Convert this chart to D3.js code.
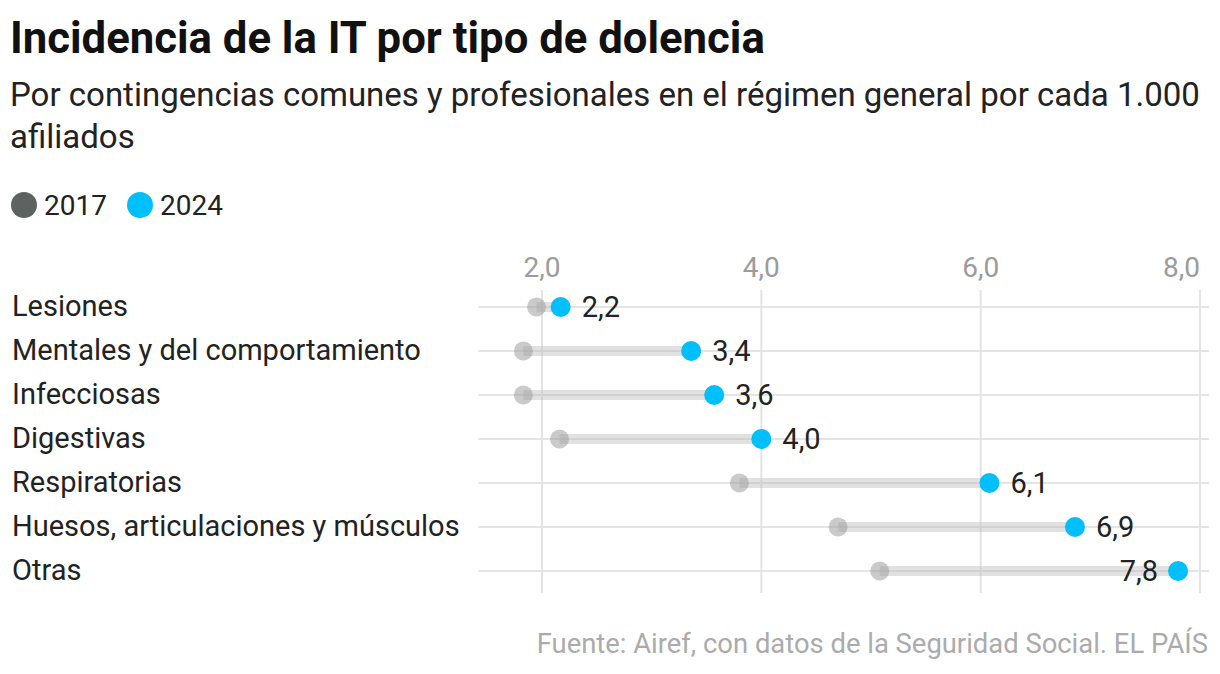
<!DOCTYPE html>
<html>
<head>
<meta charset="utf-8">
<script src="https://cdn.jsdelivr.net/npm/d3@7"></script>
<style>
  body { margin: 0; background: #fff; }
  text { font-family: Roboto, "Liberation Sans", sans-serif; }
</style>
</head>
<body>
<div id="container"></div>
<script>
let categories = ['Lesiones', 'Mentales y del comportamiento', 'Infecciosas', 'Digestivas',
                  'Respiratorias', 'Huesos, articulaciones y músculos', 'Otras']
let values2017 = [1.95, 1.83, 1.83, 2.16, 3.8, 4.7, 5.08]
let values2024 = [2.17, 3.36, 3.57, 4.0, 6.08, 6.86, 7.8]
let tickValues = [2, 4, 6, 8]
let seriesNames = ['2017', '2024']

let svgWidth = 1220;
let svgHeight = 674;
let colorOld = '#5c6360';
let colorNew = '#00bfff';

let fmt = v => d3.format('.1f')(v).replace('.', ',')

let svg = d3.select('#container')
            .append('svg')
            .attr('width', svgWidth)
            .attr('height', svgHeight);

// titulo y subtitulo
svg.append('text')
   .attr('x', 10).attr('y', 53)
   .attr('font-family', '"Liberation Sans Narrow", "DejaVu Sans Condensed", sans-serif')
   .attr('font-weight', 'bold')
   .attr('font-size', 43.7)
   .attr('fill', '#111')
   .text('Incidencia de la IT por tipo de dolencia')

let subtitle = ['Por contingencias comunes y profesionales en el régimen general por cada 1.000', 'afiliados']
svg.selectAll('.sub')
   .data(subtitle)
   .enter()
   .append('text')
   .attr('x', 10)
   .attr('y', (d, i) => 106 + i * 42)
   .attr('font-size', 33)
   .attr('fill', '#222')
   .text(d => d)

// leyenda
let legend = svg.selectAll('.legend')
   .data(seriesNames)
   .enter()
   .append('g')
   .attr('transform', (d, i) => 'translate(' + (24 + i * 116) + ',205)')
legend.append('circle')
   .attr('r', 13)
   .attr('fill', (d, i) => i == 0 ? colorOld : colorNew)
legend.append('text')
   .attr('x', 20).attr('y', 10)
   .attr('font-size', 28)
   .attr('fill', '#222')
   .text(d => d)

// escalas
let x = d3.scaleLinear()
          .domain([2, 8])
          .range([542, 1200])
let y = d3.scalePoint()
          .domain(categories)
          .range([307, 571])

// rejilla vertical
svg.selectAll('.vgrid')
   .data(tickValues)
   .enter()
   .append('line')
   .attr('x1', d => x(d)).attr('x2', d => x(d))
   .attr('y1', 290).attr('y2', 593)
   .attr('stroke', '#e4e4e4')
   .attr('stroke-width', 2)

svg.selectAll('.tick')
   .data(tickValues)
   .enter()
   .append('text')
   .attr('x', d => x(d))
   .attr('y', 277)
   .attr('text-anchor', (d, i) => i == tickValues.length - 1 ? 'end' : 'middle')
   .attr('font-size', 28)
   .attr('fill', '#9b9b9b')
   .text(d => fmt(d))

// filas
let rows = svg.selectAll('.row')
   .data(categories)
   .enter()
   .append('g')
   .attr('transform', d => 'translate(0,' + y(d) + ')')

rows.append('line')
   .attr('x1', x(1.42)).attr('x2', x(8.08))
   .attr('stroke', '#e4e4e4')
   .attr('stroke-width', 2)

rows.append('text')
   .attr('x', 12).attr('y', 9)
   .attr('font-size', 29)
   .attr('fill', '#222')
   .text(d => d)

rows.append('rect')
   .attr('x', (d, i) => x(values2017[i]))
   .attr('y', -5)
   .attr('width', (d, i) => x(values2024[i]) - x(values2017[i]))
   .attr('height', 10)
   .attr('fill', '#bdbdbd')
   .attr('opacity', 0.45)

rows.append('circle')
   .attr('cx', (d, i) => x(values2017[i]))
   .attr('r', 9.5)
   .attr('fill', '#9e9e9e')
   .attr('opacity', 0.55)

rows.append('circle')
   .attr('cx', (d, i) => x(values2024[i]))
   .attr('r', 10)
   .attr('fill', colorNew)

rows.append('text')
   .attr('x', (d, i) => i == categories.length - 1 ? x(values2024[i]) - 20 : x(values2024[i]) + 21)
   .attr('y', 10)
   .attr('text-anchor', (d, i) => i == categories.length - 1 ? 'end' : 'start')
   .attr('font-size', 29)
   .attr('fill', '#222')
   .text((d, i) => fmt(values2024[i]))

// fuente
svg.append('text')
   .attr('x', 1208).attr('y', 653)
   .attr('text-anchor', 'end')
   .attr('font-size', 27.4)
   .attr('fill', '#ababab')
   .text('Fuente: Airef, con datos de la Seguridad Social. EL PAÍS')
</script>
</body>
</html>
